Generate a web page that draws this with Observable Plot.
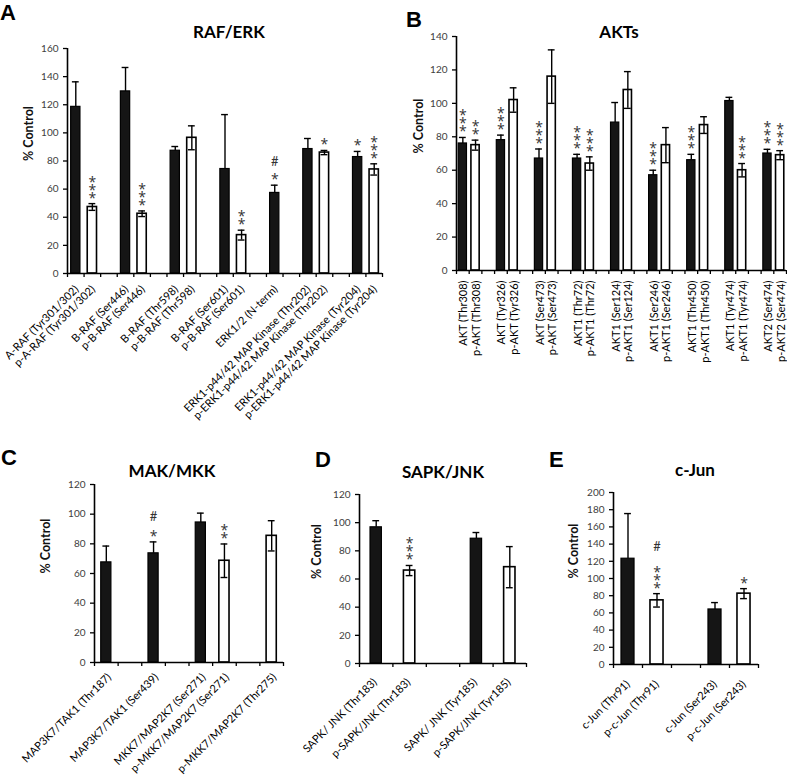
<!DOCTYPE html>
<html>
<head>
<meta charset="utf-8">
<script src="https://cdn.jsdelivr.net/npm/d3@7"></script>
<script src="https://cdn.jsdelivr.net/npm/@observablehq/plot@0.6"></script>
<style>
  body { margin: 0; background: #fff; }
  #fig { position: relative; width: 787px; height: 777px; overflow: hidden; font-family: Lato, "Open Sans", sans-serif; background: #fff; }
  .letter { position: absolute; font-family: "Liberation Sans", Arial, sans-serif; font-weight: bold; font-size: 22px; line-height: 1; color: #000; }
  .title { position: absolute; font-weight: bold; font-size: 17px; line-height: 1; color: #000; transform: translate(-50%, -50%); white-space: nowrap; }
  .panel { position: absolute; }
</style>
</head>
<body>
<div id="fig"></div>
<script>
// ---------- Panel A: RAF/ERK ----------
const rafLabels = ["A-RAF (Tyr301/302)", "p-A-RAF (Tyr301/302)", "", "B-RAF (Ser446)", "p-B-RAF (Ser446)", "",
  "B-RAF (Thr598)", "p-B-RAF (Thr598)", "", "B-RAF (Ser601)", "p-B-RAF (Ser601)", "", "ERK1/2 (N-term)", "",
  "ERK1-p44/42 MAP Kinase (Thr202)", "p-ERK1-p44/42 MAP Kinase (Thr202)", "",
  "ERK1-p44/42 MAP Kinase (Tyr204)", "p-ERK1-p44/42 MAP Kinase (Tyr204)"];
const rafValues = [118.5, 47.3, null, 129.5, 42.5, null, 87.3, 96.5, null, 74.3, 27.3, null, 57.3, null, 88.5, 86, null, 82.8, 74];
const rafErrors = [17.8, 2.4, null, 17, 2, null, 3, 8.5, null, 38.7, 3.5, null, 5.5, null, 7.5, 1.5, null, 4, 4];
const rafSig = ["", "***", "", "", "***", "", "", "", "", "", "**", "", "#*", "", "", "*", "", "*", "***"];

// ---------- Panel B: AKTs ----------
const aktLabels = ["AKT (Thr308)", "p-AKT (Thr308)", "", "AKT (Tyr326)", "p-AKT (Tyr326)", "",
  "AKT (Ser473)", "p-AKT (Ser473)", "", "AKT1 (Thr72)", "p-AKT1 (Thr72)", "",
  "AKT1 (Ser124)", "p-AKT1 (Ser124)", "", "AKT1 (Ser246)", "p-AKT1 (Ser246)", "",
  "AKT1 (Thr450)", "p-AKT1 (Thr450)", "", "AKT1 (Tyr474)", "p-AKT1 (Tyr474)", "",
  "AKT2 (Ser474)", "p-AKT2 (Ser474)"];
const aktValues = [76, 75, null, 78, 102, null, 67, 116, null, 67, 64, null, 88.5, 108, null, 57, 75, null, 66, 87, null, 101.4, 60, null, 70, 69];
const aktErrors = [3.6, 3, null, 3, 7.3, null, 5.7, 16, null, 2.5, 4, null, 12, 11, null, 3, 10.5, null, 3.5, 5, null, 2.2, 4, null, 2.5, 2.7];
const aktSig = ["***", "**", "", "***", "", "", "***", "", "", "***", "***", "", "", "", "", "***", "", "", "***", "", "", "", "***", "", "***", "***"];

// ---------- Panel C: MAK/MKK ----------
const mkkLabels = ["MAP3K7/TAK1 (Thr187)", "", "MAP3K7/TAK1 (Ser439)", "", "MKK7/MAP2K7 (Ser271)", "p-MKK7/MAP2K7 (Ser271)", "", "p-MKK7/MAP2K7 (Thr275)"];
const mkkValues = [67.5, null, 73.6, null, 94.4, 68.6, null, 85.4];
const mkkErrors = [11, null, 7.7, null, 6.3, 11.3, null, 10.2];
const mkkSig = ["", "", "#*", "", "", "**", "", ""];

// ---------- Panel D: SAPK/JNK ----------
const jnkLabels = ["SAPK/ JNK (Thr183)", "p-SAPK/JNK (Thr183)", "", "SAPK/ JNK (Tyr185)", "p-SAPK/JNK (Tyr185)"];
const jnkValues = [96.7, 66, null, 88.6, 68.4];
const jnkErrors = [4.7, 3.6, null, 4.4, 14.6];
const jnkSig = ["", "***", "", "", ""];

// ---------- Panel E: c-Jun ----------
const junLabels = ["c-Jun (Thr91)", "p-c-Jun (Thr91)", "", "c-Jun (Ser243)", "p-c-Jun (Ser243)"];
const junValues = [123, 74.6, null, 64, 82.4];
const junErrors = [52.5, 7.8, null, 8, 5.8];
const junSig = ["", "#***", "", "", "*"];

// ---------- layout config (positions / styles only) ----------
const panels = [
  {letter: "A", title: "RAF/ERK", labels: rafLabels, values: rafValues, errors: rafErrors, sig: rafSig, yMax: 160,
   left: 0, top: 0, width: 390, height: 436, ml: 67, mr: 8, mt: 48, mb: 163, barFrac: 0.56, rotate: -45, ldx: 1, ldy: 14,
   yLabelX: 28, letterPos: [0, 2], titlePos: [229, 31], hashGap: 17},
  {letter: "B", title: "AKTs", labels: aktLabels, values: aktValues, errors: aktErrors, sig: aktSig, yMax: 140,
   left: 390, top: 0, width: 397, height: 420, ml: 66, mr: 1, mt: 36, mb: 150, barFrac: 0.65, rotate: -90, ldx: 1, ldy: 10,
   yLabelX: 28, letterPos: [406, 9], titlePos: [619, 31], hashGap: 17},
  {letter: "C", title: "MAK/MKK", labels: mkkLabels, values: mkkValues, errors: mkkErrors, sig: mkkSig, yMax: 120,
   left: 0, top: 430, width: 290, height: 347, ml: 94, mr: 7, mt: 54, mb: 115, barFrac: 0.43, rotate: -45, ldx: 3, ldy: 13,
   yLabelX: 45, letterPos: [1, 447], titlePos: [172, 470], hashGap: 19},
  {letter: "D", title: "SAPK/JNK", labels: jnkLabels, values: jnkValues, errors: jnkErrors, sig: jnkSig, yMax: 120,
   left: 290, top: 430, width: 240, height: 347, ml: 69, mr: 4, mt: 64, mb: 114, barFrac: 0.34, rotate: -45, ldx: -1, ldy: 17,
   yLabelX: 26, letterPos: [315, 449], titlePos: [443, 471], hashGap: 19},
  {letter: "E", title: "c-Jun", labels: junLabels, values: junValues, errors: junErrors, sig: junSig, yMax: 200,
   left: 530, top: 430, width: 257, height: 347, ml: 83, mr: 29, mt: 62, mb: 113, barFrac: 0.45, rotate: -45, ldx: 0, ldy: 18,
   yLabelX: 43, letterPos: [549, 449], titlePos: [695, 469], hashGap: 25}
];

const fig = document.getElementById("fig");
const FONT = "Lato, 'Open Sans', sans-serif";
const STAR_FONT = "'Open Sans', Lato, sans-serif";

function makePanel(p) {
  const n = p.labels.length;
  const rows = p.labels.map((label, i) => ({
    i, label, value: p.values[i], err: p.errors[i], sig: p.sig[i] || "",
    white: label.startsWith("p-")
  }));
  const bars = rows.filter(d => d.value != null);
  const step = (p.width - p.ml - p.mr) / n;
  const hw = p.barFrac / 2;
  const cap = 3.4 / step;
  const xDomain = [-0.5, n - 0.5];
  const starRows = bars.filter(d => d.sig.includes("*"));
  const hashRows = bars.filter(d => d.sig.includes("#"));
  const nStars = d => (d.sig.match(/\*/g) || []).length;
  const starStep = 8;

  const marks = [
    // bars
    Plot.rectY(bars.filter(d => !d.white), {x1: d => d.i - hw, x2: d => d.i + hw, y1: 0, y2: "value",
      fill: "#151515", stroke: "#000", strokeWidth: 1.2}),
    Plot.rectY(bars.filter(d => d.white), {x1: d => d.i - hw, x2: d => d.i + hw, y1: 0, y2: "value",
      fill: "#fff", stroke: "#000", strokeWidth: 1.6}),
    // error bars
    Plot.ruleX(bars, {x: "i", y1: d => d.white ? d.value - d.err : d.value, y2: d => d.value + d.err,
      stroke: "#000", strokeWidth: 1.4}),
    Plot.ruleY(bars, {y: d => d.value + d.err, x1: d => d.i - cap, x2: d => d.i + cap, stroke: "#000", strokeWidth: 1.4}),
    Plot.ruleY(bars.filter(d => d.white), {y: d => d.value - d.err, x1: d => d.i - cap, x2: d => d.i + cap, stroke: "#000", strokeWidth: 1.4}),
    // axis lines
    Plot.ruleY([0], {stroke: "#000", strokeWidth: 1.6}),
    Plot.ruleX([xDomain[0]], {stroke: "#000", strokeWidth: 1.6}),
    Plot.axisY({ticks: d3.range(0, p.yMax + 1, 20), tickSize: 4, tickPadding: 5, fontSize: 10,
      fill: "#404040", stroke: "#000", strokeWidth: 1.3, label: null}),
    Plot.axisX({ticks: d3.range(n + 1).map(i => i - 0.5), tickFormat: () => "", tickSize: 4,
      stroke: "#000", strokeWidth: 1.3, label: null}),
    // category labels
    Plot.text(rows.filter(d => d.label), {x: "i", y: 0, text: "label", rotate: p.rotate, textAnchor: "end",
      dx: p.ldx, dy: p.ldy, fontSize: 11, fill: "#000"}),
    // significance stars: one asterisk per text, stacked
    ...d3.range(3).map(k => Plot.text(starRows.filter(d => nStars(d) > k), {x: "i", y: d => d.value + d.err,
      text: () => "*", lineAnchor: "bottom", fontSize: 14, fontFamily: STAR_FONT, fill: "#333",
      dy: -1 - k * starStep})),
    // hashes
    ...hashRows.map(d => Plot.text([d], {x: "i", y: d.value + d.err, text: () => "#", lineAnchor: "bottom",
      fontSize: 13, fill: "#333", dy: -2 - (nStars(d) - 1) * starStep - p.hashGap})),
    // y label
    Plot.text(["% Control"], {frameAnchor: "left", rotate: -90, dx: p.yLabelX - p.ml, fontWeight: "bold",
      fontSize: 12.5, fill: "#111"})
  ];

  const svg = Plot.plot({
    width: p.width, height: p.height,
    marginLeft: p.ml, marginRight: p.mr, marginTop: p.mt, marginBottom: p.mb,
    x: {type: "linear", domain: xDomain},
    y: {type: "linear", domain: [0, p.yMax]},
    style: {fontFamily: FONT, fontSize: "10px", color: "#000", background: "transparent", overflow: "hidden"},
    marks
  });
  svg.classList.add("panel");
  svg.style.left = p.left + "px";
  svg.style.top = p.top + "px";
  svg.style.maxWidth = "none";
  fig.appendChild(svg);

  const letter = document.createElement("div");
  letter.className = "letter";
  letter.textContent = p.letter;
  letter.style.left = p.letterPos[0] + "px";
  letter.style.top = p.letterPos[1] + "px";
  fig.appendChild(letter);

  const title = document.createElement("div");
  title.className = "title";
  title.textContent = p.title;
  title.style.left = p.titlePos[0] + "px";
  title.style.top = p.titlePos[1] + "px";
  fig.appendChild(title);
}

panels.forEach(makePanel);
</script>
</body>
</html>
